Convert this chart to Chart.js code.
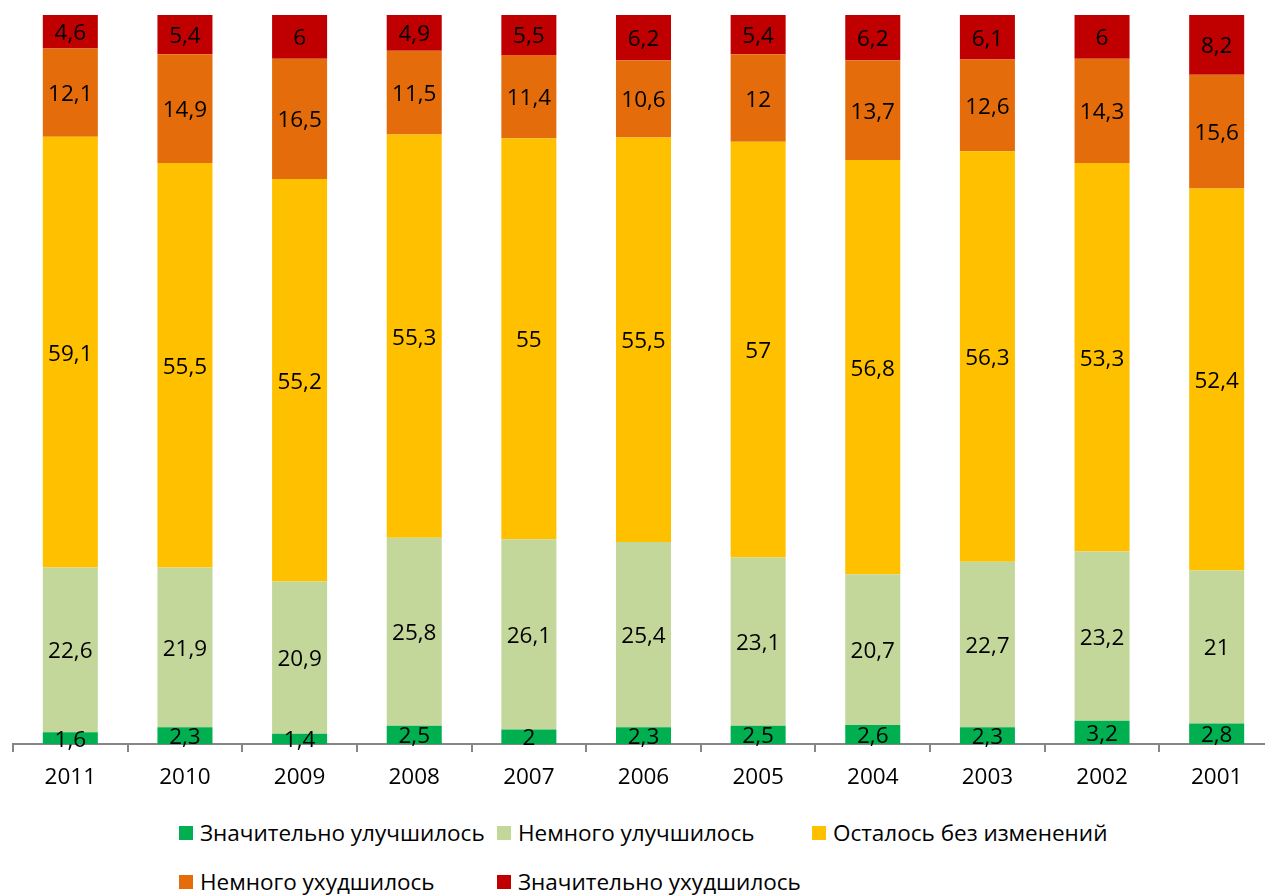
<!DOCTYPE html>
<html>
<head>
<meta charset="utf-8">
<script src="https://cdn.jsdelivr.net/npm/chart.js@4.4.0/dist/chart.umd.min.js"></script>
<style>
  html, body { margin: 0; padding: 0; background: #fff; overflow: hidden; }
  #wrap { position: relative; width: 1265px; height: 895px; overflow: hidden; }
  #cv { position: absolute; left: 0; top: 0; }
  .lg { position: absolute; font-family: "Open Sans", sans-serif; font-size: 22.5px; color: #000; white-space: nowrap; line-height: 26px; }
  .lg i { position: absolute; width: 14px; height: 14px; left: 0; top: 6px; }
  .lg span { position: absolute; left: 21px; top: 0; }
</style>
</head>
<body>
<div id="wrap">
  <canvas id="cv" width="1280" height="800" style="width:1280px;height:800px"></canvas>
  <div id="legend"></div>
</div>
<script>
const categories = ["2011", "2010", "2009", "2008", "2007", "2006", "2005", "2004", "2003", "2002", "2001"];
const seriesNames = ["Значительно улучшилось", "Немного улучшилось", "Осталось без изменений", "Немного ухудшилось", "Значительно ухудшилось"];
const seriesColors = ["#00B050", "#C4D79B", "#FFC000", "#E46C0A", "#C00000"];
const muchBetter   = [1.6, 2.3, 1.4, 2.5, 2, 2.3, 2.5, 2.6, 2.3, 3.2, 2.8];
const slightBetter = [22.6, 21.9, 20.9, 25.8, 26.1, 25.4, 23.1, 20.7, 22.7, 23.2, 21];
const unchanged    = [59.1, 55.5, 55.2, 55.3, 55, 55.5, 57, 56.8, 56.3, 53.3, 52.4];
const slightWorse  = [12.1, 14.9, 16.5, 11.5, 11.4, 10.6, 12, 13.7, 12.6, 14.3, 15.6];
const muchWorse    = [4.6, 5.4, 6, 4.9, 5.5, 6.2, 5.4, 6.2, 6.1, 6, 8.2];
const seriesValues = [muchBetter, slightBetter, unchanged, slightWorse, muchWorse];

const FONT = '"Open Sans", sans-serif';

const labelPlugin = {
  id: 'segLabels',
  afterDatasetsDraw(chart) {
    const ctx = chart.ctx;
    ctx.save();
    ctx.font = '22.5px ' + FONT;
    ctx.fillStyle = '#000';
    ctx.textAlign = 'center';
    ctx.textBaseline = 'middle';
    chart.data.datasets.forEach((ds, di) => {
      const meta = chart.getDatasetMeta(di);
      meta.data.forEach((el, i) => {
        const v = ds.data[i];
        const yc = (el.y + el.base) / 2;
        ctx.fillText(String(v).replace('.', ','), el.x, yc + 2);
      });
    });
    ctx.restore();
  }
};

new Chart(document.getElementById('cv'), {
  type: 'bar',
  data: {
    labels: categories,
    datasets: seriesNames.map((n, k) => ({
      label: n,
      data: seriesValues[k],
      backgroundColor: seriesColors[k],
      borderWidth: 0,
      barPercentage: 0.48,
      categoryPercentage: 1.0
    }))
  },
  options: {
    responsive: false,
    animation: false,
    layout: { padding: { left: 13, right: 6, top: 15, bottom: 0 } },
    plugins: { legend: { display: false }, tooltip: { enabled: false } },
    scales: {
      x: {
        stacked: true,
        grid: { display: true, drawOnChartArea: false, drawTicks: true, tickLength: 8, color: '#868686', lineWidth: 2, offset: true },
        border: { display: true, color: '#868686', width: 2 },
        ticks: { color: '#000', font: { family: FONT, size: 22.5 }, padding: 12, maxRotation: 0 },
        afterFit(s) { s.height = 56; }
      },
      y: {
        stacked: true,
        display: false,
        min: 0,
        max: 100
      }
    }
  },
  plugins: [labelPlugin]
});

// Legend (HTML text, laid out like the original's column-aligned legend)
const legendPos = [[179, 820], [497, 820], [812, 820], [179, 869], [497, 869]];
const lg = document.getElementById('legend');
seriesNames.forEach((n, k) => {
  const d = document.createElement('div');
  d.className = 'lg';
  d.style.left = legendPos[k][0] + 'px';
  d.style.top = legendPos[k][1] + 'px';
  const b = document.createElement('i');
  b.style.background = seriesColors[k];
  const s = document.createElement('span');
  s.textContent = n;
  d.appendChild(b); d.appendChild(s);
  lg.appendChild(d);
});
</script>
</body>
</html>
